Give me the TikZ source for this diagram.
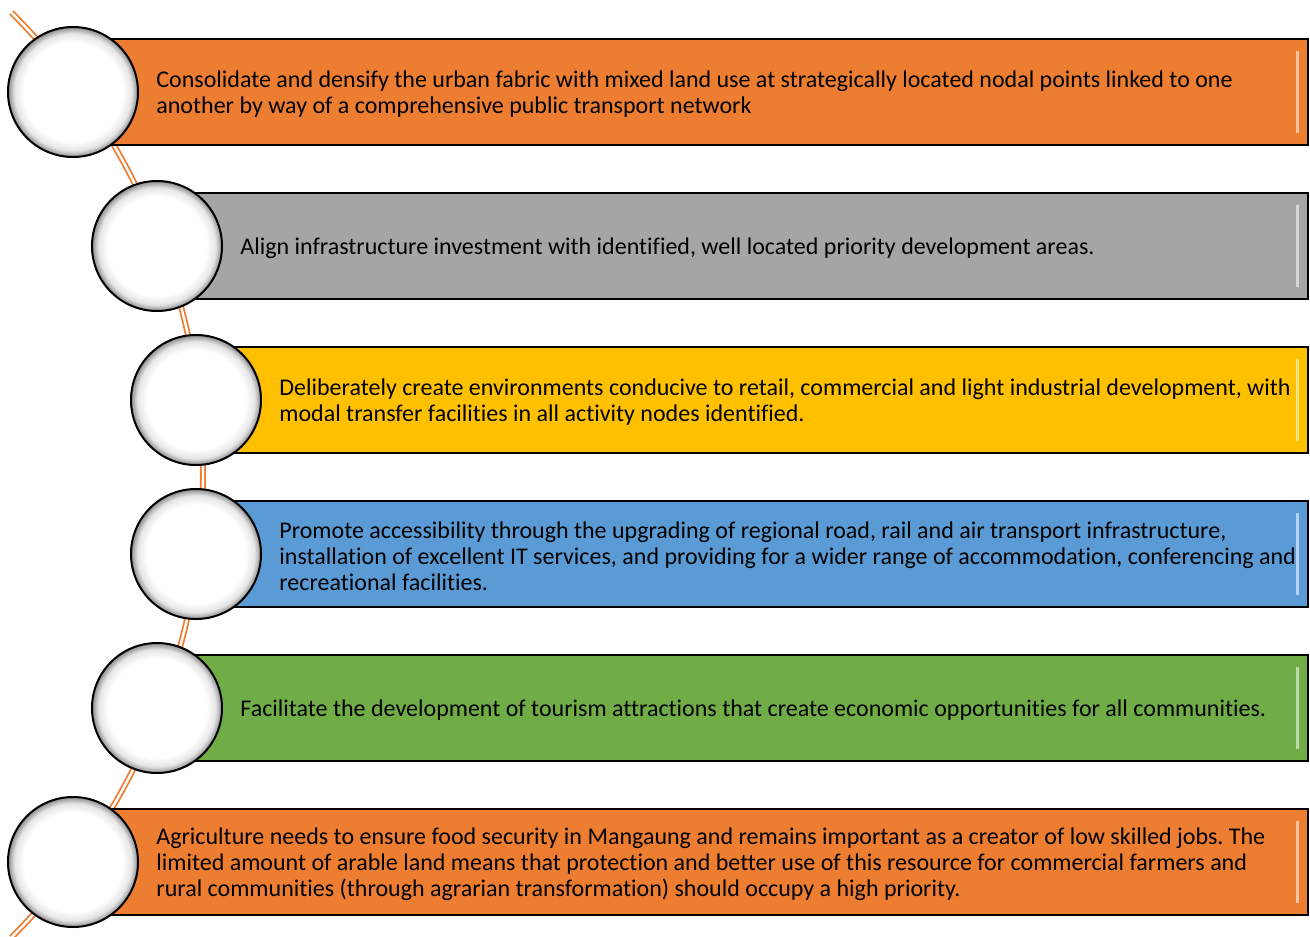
\documentclass[tikz,border=0pt]{standalone}
\usepackage{fontspec}
\setmainfont{Carlito}[Ligatures=NoCommon]
\usepackage{xcolor}
\usepackage{tikz}
\usetikzlibrary{
positioning
}
\frenchspacing
\definecolor{mgorange}{HTML}{ED7D31}
\definecolor{mggray}{HTML}{A5A5A5}
\definecolor{mgyellow}{HTML}{FFC000}
\definecolor{mgblue}{HTML}{5B9BD5}
\definecolor{mggreen}{HTML}{70AD47}
\pgfdeclareradialshading{pearl}{\pgfpoint{0bp}{0bp}}{%
  color(0bp)=(white); color(19bp)=(white); color(22.5bp)=(black!10);
  color(25bp)=(black!45); color(50bp)=(black!45)}

\begin{document}
\begin{tikzpicture}[
  x=0.5pt, y=-0.5pt,
  bar/.style={draw=black, line width=0.8pt, anchor=west, minimum height=53pt,
              inner sep=0pt,
              path picture={\draw[white, opacity=0.55, line width=1.6pt]
                ([xshift=-5pt,yshift=-6pt]path picture bounding box.north east) --
                ([xshift=-5pt,yshift=6pt]path picture bounding box.south east);}},
  pearl/.style={circle, draw=black, line width=1pt, shading=pearl,
                minimum size=65pt, inner sep=0pt},
  txt/.style={anchor=west, align=left, inner sep=0pt, yshift=-1pt,
              font=\fontsize{12}{13}\selectfont},
  spine/.style={draw=mgorange, double=white, line width=0.9pt,
                double distance=1.2pt}
]
\useasboundingbox (0,0) rectangle (1310,936);

%% Orange spine behind everything
\draw[spine] (-451,475) ++(-45:654) arc[start angle=-45, end angle=45, radius=654];

%% Bars
\node[bar, fill=mgorange, minimum width=617pt] (b1) at (73,92) {};
\node[bar, fill=mggray, minimum width=575pt] (b2) at (157,246) {};
\node[bar, fill=mgyellow, minimum width=555.5pt] (b3) at (196,400) {};
\node[bar, fill=mgblue, minimum width=555.5pt] (b4) at (196,554) {};
\node[bar, fill=mggreen, minimum width=575pt] (b5) at (157,708) {};
\node[bar, fill=mgorange, minimum width=617pt] (b6) at (73,862) {};

%% Circles on the bar ends
\node[pearl] (c1) at (b1.west) {};
\node[pearl] (c2) at (b2.west) {};
\node[pearl] (c3) at (b3.west) {};
\node[pearl] (c4) at (b4.west) {};
\node[pearl] (c5) at (b5.west) {};
\node[pearl] (c6) at (b6.west) {};

%% Texts
\node[txt, right=8.5pt of c1] (t1)
  {Consolidate and densify the urban fabric with mixed land use at strategically located nodal points linked to one\\
   another by way of a comprehensive public transport network};
\node[txt, right=8.5pt of c2] (t2)
  {Align infrastructure investment with identified, well located priority development areas.};
\node[txt, right=8.5pt of c3] (t3)
  {Deliberately create environments conducive to retail, commercial and light industrial development, with\\
   modal transfer facilities in all activity nodes identified.};
\node[txt, right=8.5pt of c4] (t4)
  {Promote accessibility through the upgrading of regional road, rail and air transport infrastructure,\\
   installation of excellent IT services, and providing for a wider range of accommodation, conferencing and\\
   recreational facilities.};
\node[txt, right=8.5pt of c5] (t5)
  {Facilitate the development of tourism attractions that create economic opportunities for all communities.};
\node[txt, right=8.5pt of c6] (t6)
  {Agriculture needs to ensure food security in Mangaung and remains important as a creator of low skilled jobs. The\\
   limited amount of arable land means that protection and better use of this resource for commercial farmers and\\
   rural communities (through agrarian transformation) should occupy a high priority.};

\end{tikzpicture}
\end{document}
